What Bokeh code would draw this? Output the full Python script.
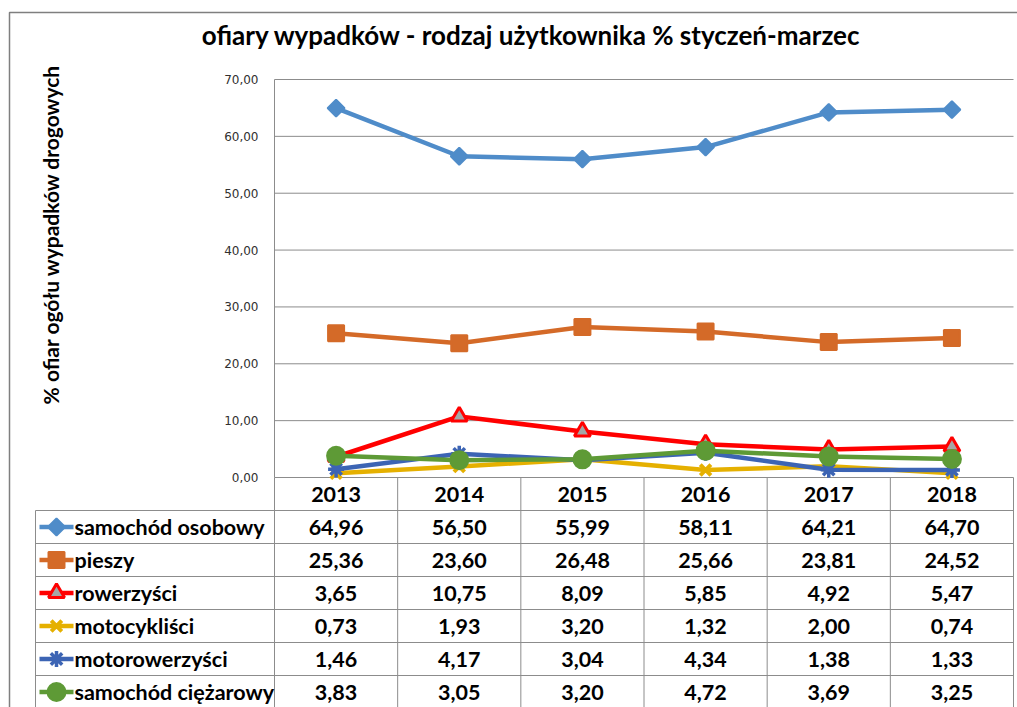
import math
from bokeh.plotting import figure
from bokeh.models import Range1d
from bokeh.core.properties import value
from bokeh.embed import file_html
from bokeh.resources import INLINE

# ---------------- data ----------------
title_text = "ofiary wypadków - rodzaj użytkownika % styczeń-marzec"
y_title = "% ofiar ogółu wypadków drogowych"
years = ["2013", "2014", "2015", "2016", "2017", "2018"]
series_names = ["samochód osobowy", "pieszy", "rowerzyści", "motocykliści",
                "motorowerzyści", "samochód ciężarowy"]
samochod_osobowy = [64.96, 56.50, 55.99, 58.11, 64.21, 64.70]
pieszy = [25.36, 23.60, 26.48, 25.66, 23.81, 24.52]
rowerzysci = [3.65, 10.75, 8.09, 5.85, 4.92, 5.47]
motocyklisci = [0.73, 1.93, 3.20, 1.32, 2.00, 0.74]
motorowerzysci = [1.46, 4.17, 3.04, 4.34, 1.38, 1.33]
samochod_ciezarowy = [3.83, 3.05, 3.20, 4.72, 3.69, 3.25]
y_ticks = [0, 10, 20, 30, 40, 50, 60, 70]
y_tick_labels = ["0,00", "10,00", "20,00", "30,00", "40,00", "50,00", "60,00", "70,00"]

series_values = [samochod_osobowy, pieszy, rowerzysci, motocyklisci,
                 motorowerzysci, samochod_ciezarowy]

# ---------------- styles ----------------
styles = [
    dict(color="#4F8CC9", marker="square", angle=math.pi / 4, size=12, fill="#4F8CC9", lw=2),
    dict(color="#D46A28", marker="square", angle=0.0, size=16, fill="#D46A28", lw=2),
    dict(color="#FF0000", marker="triangle", angle=0.0, size=16, fill="#A6A6A6", lw=3),
    dict(color="#E5B000", marker="x", angle=0.0, size=15, fill="#E5B000", lw=4),
    dict(color="#3C64B4", marker="asterisk", angle=0.0, size=16, fill="#3C64B4", lw=3.5),
    dict(color="#5E9A36", marker="circle", angle=0.0, size=18, fill="#5E9A36", lw=2),
]

# ---------------- layout (canvas pixels) ----------------
W, H = 1017, 707
PL, PR, PT, PB = 274, 1013, 79, 477      # plot-area edges on the canvas
NCOL = len(years)
XPX = (PR - PL) / NCOL
YMAX = 70
YPX = (PB - PT) / YMAX
ROW = 33
GRID = "#8C8C8C"
FONT = "Lato"


def dx(px):
    return (px - PL) / XPX


def dy(py):
    return (PB - py) / YPX


p = figure(width=W, height=H, x_range=Range1d(dx(0), dx(W)), y_range=Range1d(dy(H), dy(0)),
           output_backend="svg", toolbar_location=None, x_axis_location=None,
           y_axis_location=None, min_border=0, title=None)
p.extra_y_ranges = {"tbl": Range1d(start=(H - PB) / ROW, end=-PB / ROW)}
p.outline_line_color = None
p.background_fill_color = "white"
p.border_fill_color = "white"
p.xgrid.visible = False
p.ygrid.visible = False

# outer chart border
p.quad(left=[dx(9)], right=[dx(W + 20)], top=[dy(12)], bottom=[dy(H + 30)],
       fill_color=None, line_color="#7F7F7F", line_width=1.5)

# value gridlines, axis line and tick labels
p.segment(x0=[0.0] * len(y_ticks), x1=[float(NCOL)] * len(y_ticks), y0=y_ticks, y1=y_ticks,
          line_color=GRID, line_width=1)
p.segment(x0=[0.0], x1=[0.0], y0=[0], y1=[YMAX], line_color=GRID, line_width=1)
p.text(x=[0.0] * len(y_ticks), y=y_ticks, text=y_tick_labels, x_offset=-16,
       text_font=value("DejaVu Sans"), text_font_size="12px", text_color="#303030",
       text_align="right", text_baseline="middle")

# series
xs = [i + 0.5 for i in range(NCOL)]
for vals, st in zip(series_values, styles):
    p.line(xs, vals, line_color=st["color"], line_width=4.5)
    p.scatter(xs, vals, marker=st["marker"], size=st["size"], angle=st["angle"],
              fill_color=st["fill"], line_color=st["color"], line_width=st["lw"])

# ---------------- data table ----------------
nrows = len(series_names) + 1
left_tbl = dx(35)
vx0 = [float(c) for c in range(NCOL + 1)] + [left_tbl]
vy0 = [0.0] * (NCOL + 1) + [1.0]
vy1 = [float(nrows)] * (NCOL + 2)
p.segment(x0=vx0, x1=vx0, y0=vy0, y1=vy1, line_color=GRID, line_width=1, y_range_name="tbl")
hy = [float(r) for r in range(1, nrows + 1)]
p.segment(x0=[left_tbl] * len(hy), x1=[float(NCOL)] * len(hy), y0=hy, y1=hy,
          line_color=GRID, line_width=1, y_range_name="tbl")

TS = "21.5px"
p.text(x=xs, y=[0.5] * NCOL, text=years, text_font=value(FONT), text_font_style="bold",
       text_font_size=TS, text_align="center", text_baseline="middle",
       text_color="black", y_range_name="tbl")

for r, (name, vals, st) in enumerate(zip(series_names, series_values, styles)):
    yc = r + 1.5
    labels = [f"{v:.2f}".replace(".", ",") for v in vals]
    p.text(x=xs, y=[yc] * NCOL, text=labels, text_font=value(FONT), text_font_style="bold",
           text_font_size=TS, text_align="center", text_baseline="middle",
           text_color="black", y_range_name="tbl")
    p.text(x=[dx(74)], y=[yc], text=[name], text_font=value(FONT), text_font_style="bold",
           text_font_size=TS, text_align="left", text_baseline="middle",
           text_color="black", y_range_name="tbl")
    p.segment(x0=[dx(39)], x1=[dx(73)], y0=[yc], y1=[yc], line_color=st["color"],
              line_width=4.5, y_range_name="tbl")
    p.scatter(x=[dx(56)], y=[yc], marker=st["marker"], size=st["size"], angle=st["angle"],
              fill_color=st["fill"], line_color=st["color"], line_width=st["lw"],
              y_range_name="tbl")

# title and axis title
p.text(x=[dx(531)], y=[dy(34)], text=[title_text], text_align="center",
       text_baseline="middle", text_font=value(FONT), text_font_style="bold",
       text_font_size="26px", text_color="black")
p.text(x=[dx(50)], y=[dy(234)], text=[y_title], angle=math.pi / 2,
       text_align="center", text_baseline="middle", text_font=value(FONT),
       text_font_style="bold", text_font_size="21px", text_color="black")

open("out.html", "w").write(file_html(p, INLINE))
